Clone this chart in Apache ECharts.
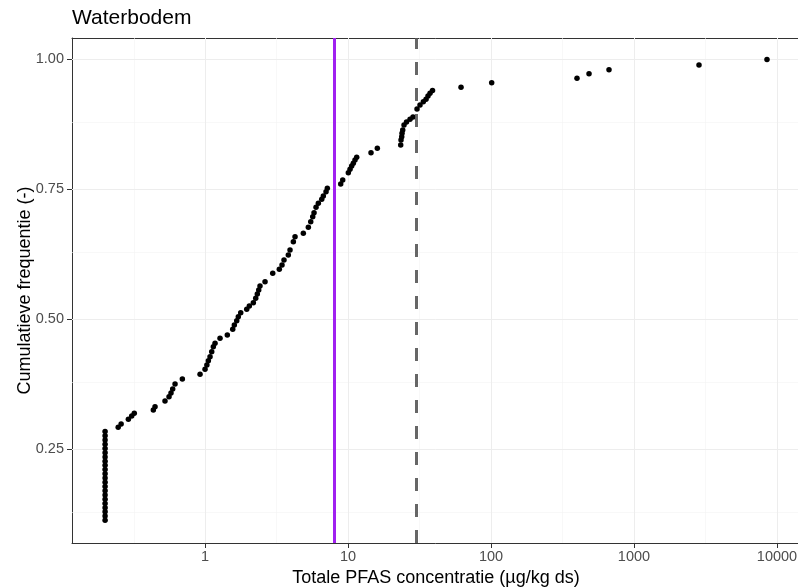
<!DOCTYPE html>
<html><head><meta charset="utf-8">
<script src="https://cdn.jsdelivr.net/npm/echarts@6/dist/echarts.min.js"></script>
<style>html,body{margin:0;padding:0;background:#fff}#c{width:798px;height:587px}</style>
</head><body><div id="c"></div>
<script>
const chartTitle = 'Waterbodem';
const xName = 'Totale PFAS concentratie (µg/kg ds)';
const yName = 'Cumulatieve frequentie (-)';

// Total PFAS concentration per sample (µg/kg ds), sorted
const concentration = [
  0.2,0.2,0.2,0.2,0.2,0.2,0.2,0.2,0.2,0.2,0.2,0.2,0.2,0.2,0.2,0.2,0.2,0.2,0.2,0.2,0.2,0.2,
  0.247,0.259,0.291,0.307,0.320,0.435,0.447,0.525,0.560,0.578,
  0.594,0.617,0.694,0.923,1.00,1.03,1.055,1.084,1.114,1.143,
  1.175,1.273,1.432,1.562,1.603,1.666,1.709,1.777,1.957,2.041,
  2.177,2.262,2.321,2.374,2.424,2.628,2.975,3.308,3.455,3.567,
  3.824,3.930,4.146,4.261,4.869,5.278,5.486,5.665,5.785,5.974,
  6.200,6.549,6.720,7.018,7.166,8.89,9.18,10.05,10.33,10.61,
  10.89,11.19,11.50,14.48,16.03,23.36,23.48,23.74,23.86,24.13,
  24.64,25.65,27.14,28.48,30.38,31.88,33.62,35.12,36.26,37.45,
  38.99,61.7,101.1,399.3,484.6,668.6,2848,8511
];
// Cumulative frequency (-)
const cumFreq = [
  0.1138,0.1220,0.1301,0.1382,0.1463,0.1545,0.1626,0.1707,0.1789,0.1870,0.1951,
  0.2033,0.2114,0.2195,0.2276,0.2358,0.2439,0.2520,0.2602,0.2683,0.2764,0.2846,
  0.2927,0.2990,0.3081,0.3144,0.3196,0.3260,0.3323,0.3433,0.3515,0.3587,
  0.3663,0.3760,0.3856,0.3946,0.4042,0.4125,0.4208,0.4285,0.4381,0.4477,
  0.4542,0.4638,0.4702,0.4812,0.4894,0.4977,0.5054,0.5131,0.5196,0.5260,
  0.5323,0.5408,0.5490,0.5567,0.5644,0.5727,0.5888,0.5965,0.6048,0.6144,
  0.6240,0.6337,0.6496,0.6592,0.6658,0.6773,0.6881,0.6977,0.7054,0.7158,
  0.7235,0.7312,0.7375,0.7458,0.7523,0.7606,0.7683,0.7823,0.7888,0.7952,
  0.8004,0.8067,0.8119,0.8208,0.8292,0.8356,0.8452,0.8515,0.8581,0.8644,
  0.8740,0.8798,0.8850,0.8894,0.9048,0.9125,0.9188,0.9235,0.9298,0.9350,
  0.9404,0.9465,0.9554,0.9638,0.9727,0.9804,0.9894,1.0
];

const xTicks = [1, 10, 100, 1000, 10000];
const xTickLabels = ['1', '10', '100', '1000', '10000'];
const xMinorBreaks = [0.3162, 3.162, 31.62, 316.2, 3162];
const yTicks = [0.25, 0.50, 0.75, 1.00];
const yTickLabels = ['0.25', '0.50', '0.75', '1.00'];
const yMinorBreaks = [0.125, 0.375, 0.625, 0.875];
const solidRef = [8];
const dashedRef = [30];

const FONT = '"Liberation Sans", Arial, Helvetica, sans-serif';
const AXIS_COL = '#333333';

function lookup(ticks, labels, v, log) {
  for (let i = 0; i < ticks.length; i++) {
    const a = log ? Math.log10(ticks[i]) : ticks[i];
    const b = log ? Math.log10(v) : v;
    if (Math.abs(a - b) < 1e-6) return labels[i];
  }
  return '';
}

const pts = concentration.map((x, i) => [x, cumFreq[i]]);

const gridLines = [];
xMinorBreaks.forEach(v => gridLines.push({xAxis: v, lineStyle: {color: '#f4f4f4', width: 0.6, type: 'solid'}}));
yMinorBreaks.forEach(v => gridLines.push({yAxis: v, lineStyle: {color: '#f4f4f4', width: 0.6, type: 'solid'}}));
xTicks.forEach(v => gridLines.push({xAxis: v, lineStyle: {color: '#ededed', width: 1, type: 'solid'}}));
yTicks.forEach(v => gridLines.push({yAxis: v, lineStyle: {color: '#ededed', width: 1, type: 'solid'}}));

const refLines = [];
solidRef.forEach(v => refLines.push({xAxis: v, lineStyle: {color: '#A020F0', width: 3, type: 'solid'}}));
dashedRef.forEach(v => refLines.push({xAxis: v, lineStyle: {color: 'rgba(85,85,85,0.9)', width: 3, type: [13, 13]}}));

const chart = echarts.init(document.getElementById('c'), null, {renderer: 'canvas', width: 798, height: 587});
chart.setOption({
  animation: false,
  backgroundColor: '#ffffff',
  textStyle: {fontFamily: FONT},
  title: {
    text: chartTitle, left: 72, top: 8, padding: 0,
    textStyle: {fontSize: 21, fontWeight: 'normal', color: '#000', fontFamily: FONT}
  },
  grid: {left: 72, right: -2, top: 38, bottom: 44, show: false, containLabel: false, outerBoundsMode: 'none'},
  xAxis: [{
    type: 'log', logBase: 10, min: 0.1174, max: 14484,
    name: xName, nameLocation: 'middle', nameGap: 26, nameMoveOverlap: false,
    nameTextStyle: {fontSize: 18, color: '#000', fontFamily: FONT},
    axisLine: {show: true, onZero: false, lineStyle: {color: AXIS_COL, width: 1}},
    axisTick: {show: true, length: 5, customValues: xTicks, lineStyle: {color: AXIS_COL, width: 1}},
    axisLabel: {
      customValues: xTicks, margin: 6, fontSize: 14.5, color: '#4d4d4d', fontFamily: FONT,
      formatter: v => lookup(xTicks, xTickLabels, v, true)
    },
    splitLine: {show: false}, minorSplitLine: {show: false}
  }, {
    type: 'value', position: 'top', min: 0, max: 1,
    axisLine: {show: true, onZero: false, lineStyle: {color: AXIS_COL, width: 1}},
    axisTick: {show: false}, axisLabel: {show: false}, splitLine: {show: false}
  }],
  yAxis: {
    type: 'value', min: 0.0702, max: 1.0413,
    name: yName, nameLocation: 'middle', nameGap: 38, nameMoveOverlap: false,
    nameTextStyle: {fontSize: 18, color: '#000', fontFamily: FONT},
    axisLine: {show: true, onZero: false, lineStyle: {color: AXIS_COL, width: 1}},
    axisTick: {show: true, length: 5, customValues: yTicks, lineStyle: {color: AXIS_COL, width: 1}},
    axisLabel: {
      customValues: yTicks, margin: 8, fontSize: 14.5, color: '#4d4d4d', fontFamily: FONT,
      formatter: v => lookup(yTicks, yTickLabels, v, false)
    },
    splitLine: {show: false}
  },
  series: [{
    type: 'scatter', data: [], z: 1, silent: true,
    markLine: {z: 1, silent: true, symbol: ['none', 'none'], label: {show: false}, animation: false, data: gridLines}
  }, {
    type: 'scatter', data: pts, z: 3, symbolSize: 5.5, silent: true,
    itemStyle: {color: '#000000', opacity: 1}
  }, {
    type: 'scatter', data: [], z: 4, silent: true,
    markLine: {z: 6, silent: true, symbol: ['none', 'none'], label: {show: false}, animation: false, data: refLines}
  }]
});
</script>
</body></html>
